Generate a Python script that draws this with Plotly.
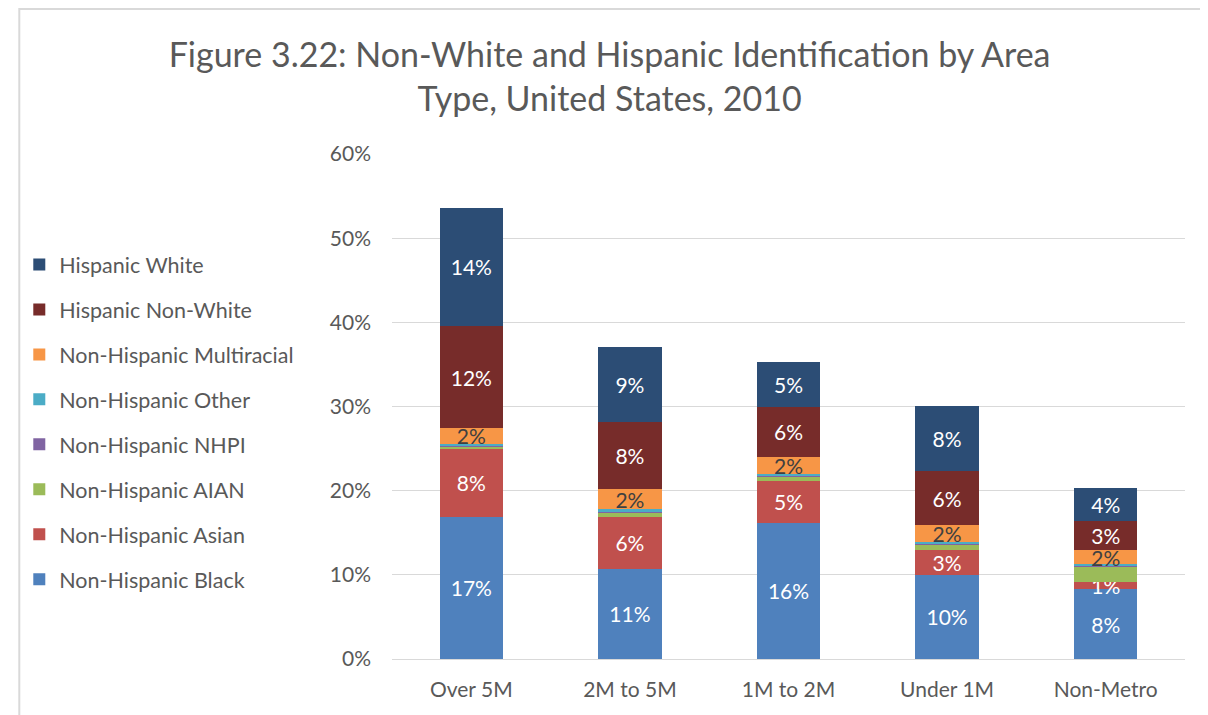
import plotly.graph_objects as go

categories = ["Over 5M", "2M to 5M", "1M to 2M", "Under 1M", "Non-Metro"]

nh_black = [16.9, 10.7, 16.2, 10.0, 8.3]
nh_asian = [8.1, 6.2, 5.0, 2.9, 0.8]
nh_aian = [0.2, 0.5, 0.5, 0.7, 1.9]
nh_nhpi = [0.1, 0.1, 0.1, 0.1, 0.05]
nh_other = [0.3, 0.3, 0.2, 0.2, 0.2]
nh_multi = [1.8, 2.4, 2.0, 2.0, 1.7]
h_nonwhite = [12.2, 8.0, 6.0, 6.4, 3.4]
h_white = [14.0, 8.9, 5.3, 7.8, 4.0]

series = [
    ("Non-Hispanic Black", nh_black, "#4F81BD", True, "white"),
    ("Non-Hispanic Asian", nh_asian, "#C0504D", True, "white"),
    ("Non-Hispanic AIAN", nh_aian, "#9BBB59", False, "white"),
    ("Non-Hispanic NHPI", nh_nhpi, "#8064A2", False, "white"),
    ("Non-Hispanic Other", nh_other, "#4BACC6", False, "white"),
    ("Non-Hispanic Multiracial", nh_multi, "#F79646", True, "#404040"),
    ("Hispanic Non-White", h_nonwhite, "#772C2A", True, "white"),
    ("Hispanic White", h_white, "#2C4D75", True, "white"),
]

FONT = "Lato, 'Open Sans', sans-serif"
ML, MR, MT, MB = 377, 31, 146, 64
W, H = 1208, 715
PW, PH = W - ML - MR, H - MT - MB


def px(fx):
    return (fx - ML) / PW


def py(fy):
    return (H - MB - fy) / PH


fig = go.Figure()
n = len(series)
for i, (name, vals, color, labeled, tcolor) in enumerate(series):
    fig.add_trace(go.Bar(
        name=name, x=categories, y=vals,
        marker=dict(color=color, line=dict(width=0)),
        text=[f"{round(v)}%" for v in vals] if labeled else None,
        textposition="inside" if labeled else "none",
        insidetextanchor="middle",
        textangle=0,
        textfont=dict(color=tcolor, size=21, family=FONT),
        width=0.4,
        legendgroup=f"g{i}",
        legendrank=n - i,
        hoverinfo="skip",
    ))

fig.update_layout(
    barmode="stack",
    width=W, height=H,
    margin=dict(l=ML, r=MR, t=MT, b=MB),
    paper_bgcolor="white", plot_bgcolor="white",
    font=dict(family=FONT, color="#595959", size=21),
    title=dict(
        text="Figure 3.22: Non-White and Hispanic Identification by Area<br>Type, United States, 2010",
        x=0.498, xanchor="center", y=1 - 59 / H, yanchor="middle",
        font=dict(size=34, color="#595959", family=FONT),
    ),
    legend=dict(
        x=px(1), xanchor="left", y=py(236), yanchor="top",
        traceorder="grouped", tracegroupgap=14,
        bgcolor="rgba(0,0,0,0)",
        font=dict(size=21.5, color="#595959", family=FONT),
        itemwidth=30,
    ),
    uniformtext=dict(mode="show", minsize=21),
    xaxis=dict(showline=True, linecolor="#d9d9d9", linewidth=1, ticks="",
               tickfont=dict(size=21, color="#595959"), ticklabelstandoff=12),
    yaxis=dict(range=[0, 60], dtick=10, ticksuffix="%", showgrid=True,
               gridcolor="#d9d9d9", gridwidth=1, zeroline=False,
               tickfont=dict(size=21, color="#595959"), ticklabelstandoff=20),
    shapes=[dict(type="rect", xref="paper", yref="paper",
                 x0=px(1), x1=px(W + 20), y0=py(H + 20), y1=py(1),
                 line=dict(color="#d9d9d9", width=2), fillcolor="rgba(0,0,0,0)",
                 layer="below")],
)

fig.write_html("out.html")
